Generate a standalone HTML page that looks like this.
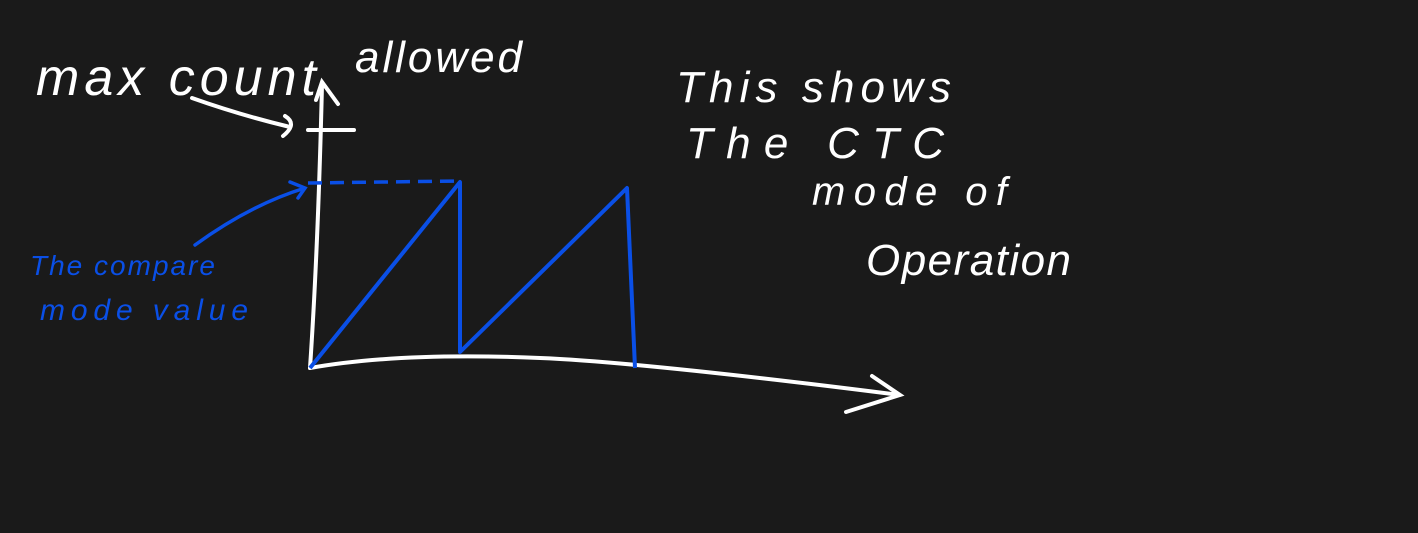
<!DOCTYPE html>
<html><head><meta charset="utf-8"><style>
html,body{margin:0;padding:0;background:#1a1a1a;}
svg{display:block}
text{font-family:"Liberation Sans",sans-serif;}
</style></head><body>
<svg width="1418" height="533" viewBox="0 0 1418 533">
<rect width="1418" height="533" fill="#1a1a1a"/>
<path d="M310 368 Q318 250 322 85 M316 100 L322 82 L338 104" stroke="#fff" stroke-width="4" fill="none" stroke-linecap="round"/>
<path d="M308 130 L354 130" stroke="#fff" stroke-width="4" fill="none" stroke-linecap="round"/>
<path d="M310 368 Q400 352 540 358 Q640 362 900 395 M872 376 L900 395 L846 412" stroke="#fff" stroke-width="4" fill="none" stroke-linecap="round"/>
<path d="M192 98 Q240 115 290 127 M285 116 Q298 124 283 136" stroke="#fff" stroke-width="4" fill="none" stroke-linecap="round"/>
<text x="36" y="95" fill="#fff" font-size="52" font-style="italic" textLength="280">max count</text>
<text x="355" y="72" fill="#fff" font-size="44" font-style="italic" textLength="167">allowed</text>
<text x="676" y="102" fill="#fff" font-size="44" font-style="italic" textLength="275">This shows</text>
<text x="686" y="158" fill="#fff" font-size="44" font-style="italic" textLength="258">The  CTC</text>
<text x="812" y="205" fill="#fff" font-size="40" font-style="italic" textLength="195">mode of</text>
<text x="866" y="275" fill="#fff" font-size="44" font-style="italic" textLength="205">Operation</text>
<text x="30" y="275" fill="#0a4fe6" font-size="28" font-style="italic" textLength="185">The compare</text>
<text x="40" y="320" fill="#0a4fe6" font-size="30" font-style="italic" textLength="208">mode value</text>
<path d="M195 245 Q250 205 305 188 M290 182 L305 188 L298 198" stroke="#0a4fe6" stroke-width="3.5" fill="none" stroke-linecap="round"/>
<path d="M308 183 L460 181" stroke="#0a4fe6" stroke-width="3.5" fill="none" stroke-dasharray="14 8"/>
<g id="series"></g>
</svg>
<script>
const times=[0,150,150,317,325];
const counts=[0,186,16,180,0];
const x=t=>310+t;
const y=c=>368-c;
let d='';
for(let i=0;i<times.length;i++){d+=(i?'L':'M')+x(times[i])+' '+y(counts[i])+' ';}
const p=document.createElementNS('http://www.w3.org/2000/svg','path');
p.setAttribute('d',d);
p.setAttribute('stroke','#0a4fe6');
p.setAttribute('stroke-width','4');
p.setAttribute('fill','none');
p.setAttribute('stroke-linejoin','round');


document.getElementById('series').appendChild(p);
</script>
</body></html>
